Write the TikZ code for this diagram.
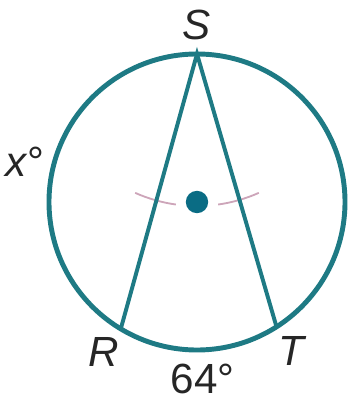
\documentclass[tikz,border=0pt]{standalone}
\usepackage{fontspec}
\setmainfont{Liberation Sans}
\usepackage{tikz}
\usetikzlibrary{positioning}
\definecolor{rimteal}{RGB}{30,122,132}
\definecolor{dotteal}{RGB}{10,108,132}
\definecolor{arcpink}{RGB}{205,165,185}

\begin{document}
\begin{tikzpicture}[
        rim/.style={draw=rimteal, line width=3.5pt},
        chord/.style={draw=rimteal, line width=2.8pt, line cap=round},
        compassarc/.style={draw=arcpink, line width=1.3pt},
        lbl/.style={font=\fontsize{30}{36}\selectfont\itshape, text=black!85, inner sep=0pt},
        num/.style={font=\fontsize{30}{36}\selectfont, text=black!85, inner sep=0pt}
    ]
    \useasboundingbox (-4.925,-5.0) rectangle (3.95,5.05);

    % Circle with centre O
    \coordinate (O) at (0,0);
    \draw[rim] (O) circle (3.7);
    \coordinate (S) at (90:3.7);
    \coordinate (R) at (239:3.7);
    \coordinate (T) at (302.5:3.7);

    % Compass marks
    \draw[compassarc] (S) ++(246:3.8) arc (246:262:3.8);
    \draw[compassarc] (S) ++(278:3.8) arc (278:294:3.8);

    % Inscribed angle
    \draw[chord] (R) -- (S) -- (T);
    \fill[dotteal] (O) circle (0.28);

    % Labels
    \node[lbl] (labS) at (0,4.43) {S};
    \node[lbl] (labR) at (-2.33,-3.75) {R};
    \node[lbl] (labT) at (2.35,-3.73) {T};
    \node[lbl] (labx) at (-4.3,1.0) {x\textup{°}};
    \node[num] (arcRT) at (0.14,-4.42) {64°};
\end{tikzpicture}
\end{document}
